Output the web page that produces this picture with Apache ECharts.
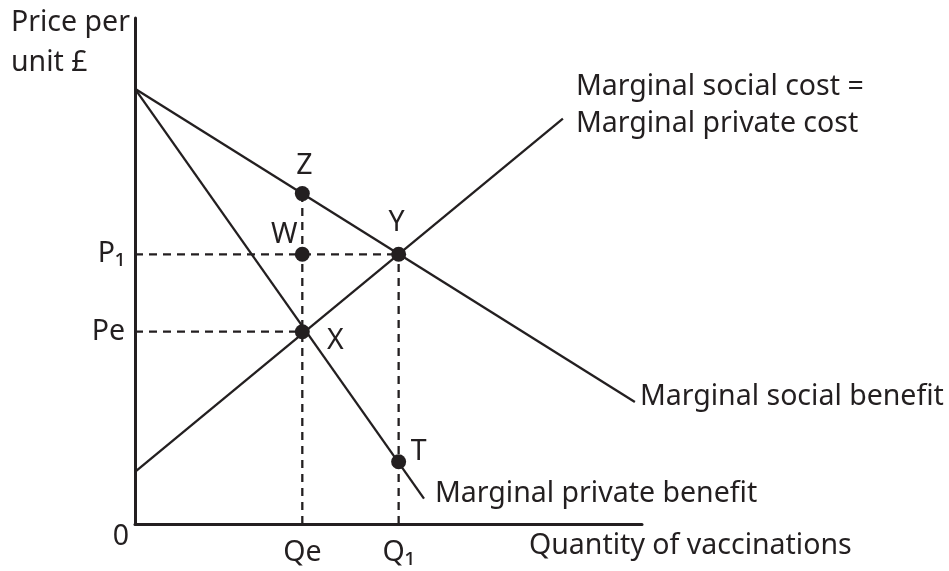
<!DOCTYPE html>
<html>
<head>
<meta charset="utf-8">
<script src="https://cdn.jsdelivr.net/npm/echarts@6/dist/echarts.min.js"></script>
<style>html,body{margin:0;padding:0;background:#fff}#c{width:949px;height:571px}</style>
</head>
<body>
<div id="c"></div>
<script>
// ---- data ----
const qLabels = ['Qe', 'Q\u2081'];
const qValues = [33, 52];
const pLabels = ['P\u2081', 'Pe'];
const pValues = [53.3, 38];
const msbLine = [[0, 86], [98.6, 24.1]];   // Marginal social benefit
const mpbLine = [[0, 86], [57, 5]];        // Marginal private benefit
const mscLine = [[0, 10.3], [84.4, 80.1]]; // Marginal social cost = marginal private cost
const pointNames = ['Z', 'W', 'Y', 'X', 'T'];
const pointX = [33, 33, 52, 33, 52];
const pointY = [65.3, 53.3, 53.3, 38, 12.3];
const curveNames = ['Marginal social cost =\nMarginal private cost', 'Marginal social benefit', 'Marginal private benefit'];
const axisTitles = ['Price per\nunit \u00a3', 'Quantity of vaccinations'];

// ---- styling ----
const INK = '#231f20';
const FONT = '"Noto Sans", "Open Sans", sans-serif';
const FS = 28.5;
const dashStyle = {color: INK, width: 2.3, type: [8, 6]};

const chart = echarts.init(document.getElementById('c'), null, {renderer: 'canvas'});

function lineSeries(data) {
  return {type: 'line', data: data, showSymbol: false, symbol: 'none', silent: true,
    lineStyle: {color: INK, width: 2.3}, clip: false, z: 3};
}

// dashed guides from the axes to the equilibrium points
const guides = [
  [[0, pValues[0]], [qValues[1], pValues[0]]],
  [[0, pValues[1]], [qValues[0], pValues[1]]],
  [[qValues[0], 0], [qValues[0], pointY[0]]],
  [[qValues[1], 0], [qValues[1], pointY[2]]]
];

const pointOffsets = [[2, -28], [-18, -19], [-2, -31], [33, 9], [20, -10]];
const curveEnds = [mscLine[1], msbLine[1], mpbLine[1]];
const curveLabelCfg = [
  {distance: 13, offset: [0, -13]},
  {distance: 5, offset: [0, -5]},
  {distance: 11, offset: [0, -5]}
];

const textStyle = {color: INK, fontSize: FS, fontFamily: FONT, textBorderWidth: 0, opacity: 1};

const option = {
  animation: false,
  backgroundColor: '#fff',
  grid: {left: 135, top: 18, right: 307, bottom: 47, containLabel: false},
  xAxis: {type: 'value', min: 0, max: 100,
    axisLine: {show: true, lineStyle: {color: INK, width: 3}},
    axisTick: {show: false}, axisLabel: {show: false}, splitLine: {show: false}},
  yAxis: {type: 'value', min: 0, max: 100,
    axisLine: {show: true, lineStyle: {color: INK, width: 3}},
    axisTick: {show: false}, axisLabel: {show: false}, splitLine: {show: false}},
  series: [
    ...guides.map(g => ({type: 'line', data: g, symbol: 'none', silent: true,
      lineStyle: dashStyle, z: 2})),
    lineSeries(msbLine),
    lineSeries(mpbLine),
    lineSeries(mscLine),
    {type: 'scatter', symbolSize: 15, itemStyle: {color: INK, opacity: 1}, z: 5, silent: true,
      data: pointNames.map((n, i) => ({value: [pointX[i], pointY[i]], name: n,
        label: {show: true, position: 'inside', offset: pointOffsets[i], formatter: n, ...textStyle}}))},
    // axis tick labels
    {type: 'scatter', symbolSize: 0.01, itemStyle: {color: INK}, silent: true, z: 6,
      data: [
        ...qLabels.map((t, i) => ({value: [qValues[i], 0],
          label: {show: true, position: 'inside', offset: [0, 29], formatter: t, ...textStyle}})),
        ...pLabels.map((t, i) => ({value: [0, pValues[i]],
          label: {show: true, position: 'left', distance: 10, offset: [0, 0], formatter: t, ...textStyle}})),
        {value: [0, 0], label: {show: true, position: 'inside', offset: [-14, 13], formatter: '0', ...textStyle}}
      ]},
    // curve names
    {type: 'scatter', symbolSize: 0.01, itemStyle: {color: INK}, silent: true, z: 6,
      data: curveNames.map((t, i) => ({value: curveEnds[i],
        label: {show: true, position: 'right', distance: curveLabelCfg[i].distance,
          offset: curveLabelCfg[i].offset, formatter: t, align: 'left', lineHeight: 37, ...textStyle}}))}
  ],
  graphic: [
    {type: 'text', left: 11, top: 3, style: {text: axisTitles[0], fill: INK, font: FS + 'px ' + FONT, lineHeight: 40}},
    {type: 'text', left: 529, top: 531, style: {text: axisTitles[1], fill: INK, font: FS + 'px ' + FONT}}
  ]
};
chart.setOption(option);
</script>
</body>
</html>
